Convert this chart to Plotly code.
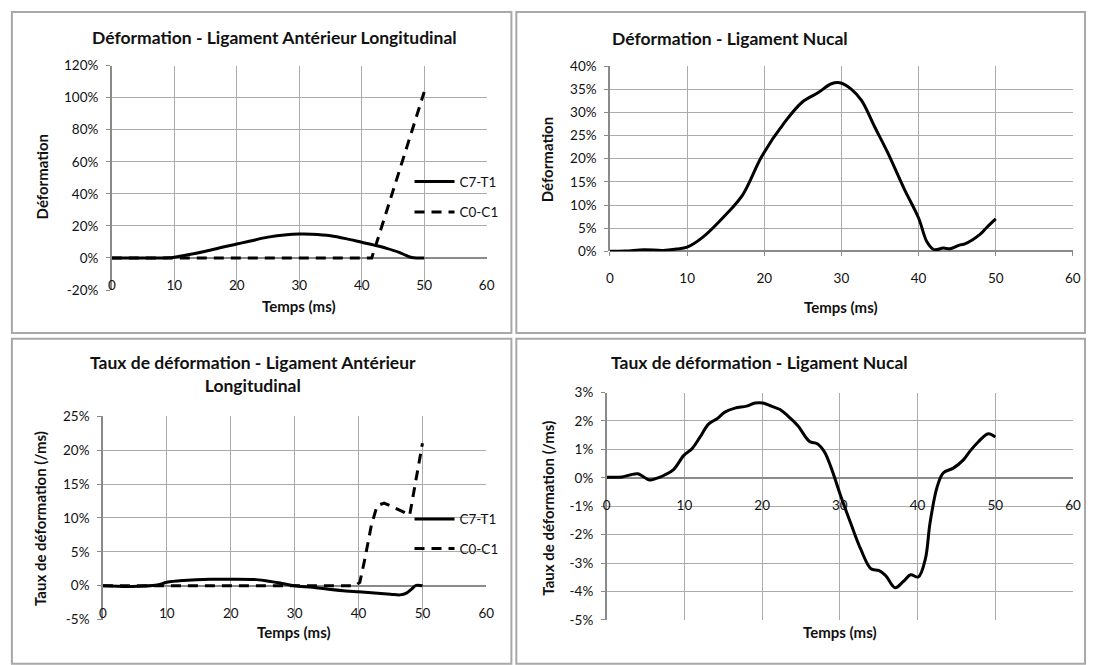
import plotly.graph_objects as go

# ---------------- data ----------------
# Panel 1 : Déformation - Ligament Antérieur Longitudinal (%)
t_ala_c7 = [0, 5, 8, 9, 10, 12, 15, 18, 20, 22, 25, 28, 30, 32, 35, 38, 40, 42, 44, 46, 47, 48, 49, 50]
def_ala_c7 = [0, 0, 0, 0.1, 0.5, 1.8, 4.2, 7.0, 8.7, 10.4, 13.0, 14.5, 14.9, 14.8, 13.9, 11.6, 9.8, 8.0,
              6.0, 3.5, 1.8, 0.3, 0, 0]
t_ala_c0 = [0, 5, 10, 15, 20, 25, 30, 35, 40, 41.6, 43, 45, 47, 49, 50]
def_ala_c0 = [0, 0, 0, 0, 0, 0, 0, 0, 0, 0, 17, 42, 66, 91, 103.5]

# Panel 2 : Déformation - Ligament Nucal (%)
t_nuc = [0, 2, 4.4, 6.9, 8.6, 10, 12, 15, 17.2, 19.7, 22.7, 24.9, 27, 28.7, 29.8, 31.3, 32.6, 34.3, 36,
         38.1, 40, 41.1, 42, 43.2, 44.1, 45.4, 46, 48, 48.8, 50]
def_nuc = [0, 0.05, 0.35, 0.2, 0.5, 0.9, 3.0, 7.9, 12.2, 20.6, 28.0, 32.2, 34.3, 36.2, 36.4, 35.0, 32.6,
           26.9, 21.3, 13.6, 7.2, 2.0, 0.35, 0.7, 0.56, 1.4, 1.6, 3.7, 5.1, 7.0]

# Panel 3 : Taux de déformation - Ligament Antérieur Longitudinal (%/ms)
t_tala_c7 = [0, 4.4, 8.5, 10, 12.6, 16.8, 20, 24, 26, 28, 30, 32.8, 35.3, 38, 40, 43, 45, 46.5, 47.5,
             48.3, 49, 50]
taux_ala_c7 = [0, -0.1, 0.1, 0.5, 0.77, 0.96, 0.96, 0.9, 0.67, 0.34, 0, -0.24, -0.53, -0.77, -0.9, -1.1,
               -1.25, -1.35, -1.1, -0.5, 0.05, 0]
t_tala_c0 = [0, 10, 20, 30, 39.5, 40.2, 41, 42, 42.9, 44, 45.5, 47, 48, 48.8, 49.6, 50]
taux_ala_c0 = [0, 0, 0, 0, 0, 0.5, 4, 8.9, 11.8, 12.2, 11.6, 10.9, 10.4, 14.7, 19, 21]

# Panel 4 : Taux de déformation - Ligament Nucal (%/ms)
t_tnuc = [0, 2.0, 3.1, 4.0, 4.6, 5.5, 6.3, 7.4, 8.6, 9.9, 11, 12, 13.1, 14.2, 15.2, 16.5, 18, 19.1, 20.1,
          21.2, 22.3, 23.3, 24.6, 26.1, 27.1, 28, 28.9, 30.1, 31.4, 32.7, 34, 35, 35.9, 37.1, 38.2, 39.1,
          40.1, 41, 41.6, 42.5, 43.3, 44.6, 45.9, 46.7, 47.8, 49.1, 50]
taux_nuc = [0.02, 0.03, 0.11, 0.14, 0.06, -0.08, -0.03, 0.09, 0.29, 0.78, 1.03, 1.43, 1.89, 2.08, 2.31,
            2.45, 2.52, 2.63, 2.63, 2.52, 2.4, 2.18, 1.83, 1.28, 1.2, 0.92, 0.34, -0.63, -1.6, -2.52,
            -3.2, -3.26, -3.44, -3.87, -3.64, -3.41, -3.49, -2.86, -1.6, -0.34, 0.17, 0.34, 0.63, 0.92,
            1.26, 1.55, 1.43]

x_ticks = [0, 10, 20, 30, 40, 50, 60]
y1_ticks = [-20, 0, 20, 40, 60, 80, 100, 120]
y1_labels = ["-20%", "0%", "20%", "40%", "60%", "80%", "100%", "120%"]
y2_ticks = [0, 5, 10, 15, 20, 25, 30, 35, 40]
y2_labels = ["0%", "5%", "10%", "15%", "20%", "25%", "30%", "35%", "40%"]
y3_ticks = [-5, 0, 5, 10, 15, 20, 25]
y3_labels = ["-5%", "0%", "5%", "10%", "15%", "20%", "25%"]
y4_ticks = [-5, -4, -3, -2, -1, 0, 1, 2, 3]
y4_labels = ["-5%", "-4%", "-3%", "-2%", "-1%", "0%", "1%", "2%", "3%"]

titles = ["Déformation - Ligament Antérieur Longitudinal",
          "Déformation - Ligament Nucal",
          "Taux de déformation - Ligament Antérieur<br>Longitudinal",
          "Taux de déformation - Ligament Nucal"]
ytitles = ["Déformation", "Déformation", "Taux de déformation (/ms)", "Taux de déformation (/ms)"]
xtitle = "Temps (ms)"
series_names = ["C7-T1", "C0-C1"]

# ---------------- layout helpers ----------------
W, H = 1096, 665
FONT = "Lato"
GRID = "#ababab"
AXIS = "#8a8a8a"
TXT = "#111111"


def px(xp):
    return xp / W


def py(yp):
    return 1 - yp / H


dom = {
    1: ([px(109), px(488)], [py(289), py(59)], [-20, 120]),
    2: ([px(612.7), px(1080.7)], [py(249.3), py(59.6)], [0, 40]),
    3: ([px(100), px(487.7)], [py(626.7), py(418.3)], [-5, 25]),
    4: ([px(609.4), px(1080.8)], [py(627), py(394)], [-5, 3]),
}
yt = {1: (y1_ticks, y1_labels), 2: (y2_ticks, y2_labels), 3: (y3_ticks, y3_labels), 4: (y4_ticks, y4_labels)}

fig = go.Figure()

solid = dict(color="black", width=3)
dashed = dict(color="black", width=3, dash="10px,7px")

fig.add_trace(go.Scatter(x=t_ala_c7, y=def_ala_c7, mode="lines", line=solid, line_shape="spline",
                         name=series_names[0], xaxis="x", yaxis="y", legend="legend", legendgroup="a"))
fig.add_trace(go.Scatter(x=t_ala_c0, y=def_ala_c0, mode="lines", line=dashed,
                         name=series_names[1], xaxis="x", yaxis="y", legend="legend", legendgroup="b"))
fig.add_trace(go.Scatter(x=t_nuc, y=def_nuc, mode="lines", line=solid, line_shape="spline",
                         showlegend=False, xaxis="x2", yaxis="y2"))
fig.add_trace(go.Scatter(x=t_tala_c7, y=taux_ala_c7, mode="lines", line=solid, line_shape="spline",
                         name=series_names[0], xaxis="x3", yaxis="y3", legend="legend2", legendgroup="c"))
fig.add_trace(go.Scatter(x=t_tala_c0, y=taux_ala_c0, mode="lines", line=dashed,
                         name=series_names[1], xaxis="x3", yaxis="y3", legend="legend2", legendgroup="d"))
fig.add_trace(go.Scatter(x=t_tnuc, y=taux_nuc, mode="lines", line=solid, line_shape="spline",
                         showlegend=False, xaxis="x4", yaxis="y4"))

tickfont = dict(family=FONT, size=13.5, color=TXT)
lay = {}
for i in range(1, 5):
    xd, yd, yr = dom[i]
    sx = "" if i == 1 else str(i)
    lay["xaxis" + sx] = dict(domain=xd, range=[0, 60], tickvals=x_ticks, showgrid=True, gridcolor=GRID,
                             gridwidth=1.2, zeroline=False, showline=False, anchor="y" + sx,
                             showticklabels=(i == 2), ticks="outside" if i == 2 else "", ticklen=4,
                             tickcolor=AXIS, tickfont=tickfont, ticklabelstandoff=10, fixedrange=True)
    lay["yaxis" + sx] = dict(domain=yd, range=yr, tickvals=yt[i][0], ticktext=yt[i][1], showgrid=True,
                             gridcolor=GRID, gridwidth=1.2, zeroline=True, zerolinecolor=AXIS,
                             zerolinewidth=1.5, showline=True, linecolor=AXIS, linewidth=1.5,
                             anchor="x" + sx, ticks="outside", ticklen=4, tickcolor=AXIS,
                             tickfont=tickfont, ticklabelstandoff=5, fixedrange=True)

# overlay x axes carrying tick labels at the zero line (Excel style)
for i, ax in [(1, 5), (3, 6), (4, 7)]:
    xd, yd, yr = dom[i]
    zero = yd[0] + (0 - yr[0]) / (yr[1] - yr[0]) * (yd[1] - yd[0])
    base = "x" if i == 1 else "x" + str(i)
    ybase = "y" if i == 1 else "y" + str(i)
    lay["xaxis" + str(ax)] = dict(overlaying=base, anchor="free", position=zero, range=[0, 60],
                                   tickvals=x_ticks, showgrid=False, zeroline=False, showline=False,
                                   ticks="", tickfont=tickfont, ticklabelstandoff=18, fixedrange=True)
    fig.add_trace(go.Scatter(x=[], y=[], mode="lines", showlegend=False, hoverinfo="skip",
                             xaxis="x" + str(ax), yaxis=ybase))

ann = []
title_font = dict(family=FONT, size=17.5, color=TXT)
ann.append(dict(text="<b>%s</b>" % titles[0], x=px(273), y=py(30), xref="paper", yref="paper",
                xanchor="center", yanchor="middle", showarrow=False, font=title_font))
ann.append(dict(text="<b>%s</b>" % titles[1], x=px(613), y=py(31), xref="paper", yref="paper",
                xanchor="left", yanchor="middle", showarrow=False, font=title_font))
ann.append(dict(text="<b>Taux de déformation - Ligament Antérieur</b><br><b>Longitudinal</b>",
                x=px(252), y=py(375), xref="paper", yref="paper", xanchor="center", yanchor="middle",
                showarrow=False, font=title_font))
ann.append(dict(text="<b>%s</b>" % titles[3], x=px(612), y=py(363), xref="paper", yref="paper",
                xanchor="left", yanchor="middle", showarrow=False, font=title_font))

axt_font = dict(family=FONT, size=15, color=TXT)
for (xc, yc) in [(298, 305), (846, 306), (293, 639), (845, 639)]:
    ann.append(dict(text="<b>%s</b>" % xtitle, x=px(xc), y=py(yc), xref="paper", yref="paper",
                    xanchor="center", yanchor="middle", showarrow=False, font=axt_font))
for (xc, yc), t in zip([(38, 173), (549, 155), (37, 523), (550, 512)], ytitles):
    ann.append(dict(text="<b>%s</b>" % t, x=px(xc), y=py(yc), xref="paper", yref="paper",
                    xanchor="center", yanchor="middle", textangle=-90, showarrow=False, font=axt_font))

shapes = []
for (x0, y0, x1, y1) in [(8, 4, 513, 333), (518, 4, 1093, 333), (8, 339, 513, 672), (518, 339, 1093, 672)]:
    shapes.append(dict(type="rect", xref="paper", yref="paper", x0=px(x0), x1=px(x1), y0=py(y1), y1=py(y0),
                       line=dict(color="#a8a8a8", width=2), fillcolor="rgba(0,0,0,0)", layer="below"))

legfont = dict(family=FONT, size=13.5, color=TXT)
fig.update_layout(
    width=W, height=H, margin=dict(l=0, r=0, t=0, b=0), autosize=False,
    paper_bgcolor="white", plot_bgcolor="white",
    annotations=ann, shapes=shapes,
    legend=dict(x=px(410), y=py(162), xanchor="left", yanchor="top", font=legfont,
                bgcolor="rgba(0,0,0,0)", tracegroupgap=10, itemwidth=40),
    legend2=dict(x=px(410), y=py(508), xanchor="left", yanchor="top", font=legfont,
                 bgcolor="rgba(0,0,0,0)", tracegroupgap=9, itemwidth=40),
    **lay,
)

fig.write_html("out.html")
